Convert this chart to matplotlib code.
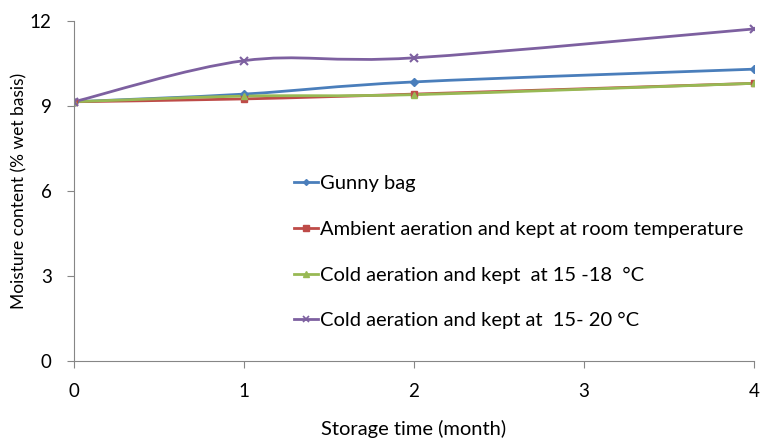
import matplotlib
matplotlib.use("Agg")
import matplotlib.pyplot as plt
from matplotlib.path import Path
from matplotlib.patches import PathPatch
from matplotlib.lines import Line2D

plt.rcParams['font.family'] = ['Lato', 'DejaVu Sans']

# Data
months = [0, 1, 2, 4]
gunny_bag = [9.15, 9.42, 9.85, 10.3]
ambient = [9.15, 9.25, 9.42, 9.8]
cold_15_18 = [9.15, 9.35, 9.4, 9.8]
cold_15_20 = [9.15, 10.6, 10.7, 11.72]

labels = [
    "Gunny bag",
    "Ambient aeration and kept at room temperature",
    "Cold aeration and kept  at 15 -18  \u00b0C",
    "Cold aeration and kept at  15- 20 \u00b0C",
]
series = [gunny_bag, ambient, cold_15_18, cold_15_20]
colors = ["#4A7EBB", "#BE4B48", "#98B954", "#7D60A0"]
markers = ["D", "s", "^", "x"]
msizes = [4, 5, 5, 6]


def smooth_path(xs, ys):
    # Excel-style smoothed line: cubic Bezier segments through the points
    n = len(xs)
    verts = [(xs[0], ys[0])]
    codes = [Path.MOVETO]
    for i in range(n - 1):
        x0, y0 = xs[max(i - 1, 0)], ys[max(i - 1, 0)]
        x1, y1 = xs[i], ys[i]
        x2, y2 = xs[i + 1], ys[i + 1]
        x3, y3 = xs[min(i + 2, n - 1)], ys[min(i + 2, n - 1)]
        c1 = (x1 + (x2 - x0) / 6, y1 + (y2 - y0) / 6)
        c2 = (x2 - (x3 - x1) / 6, y2 - (y3 - y1) / 6)
        verts += [c1, c2, (x2, y2)]
        codes += [Path.CURVE4] * 3
    return Path(verts, codes)


fig = plt.figure(figsize=(7.6, 4.4), dpi=100)
ax = fig.add_axes([74 / 760, 1 - 361 / 440, 680 / 760, 340 / 440])

handles = []
for ys, c, m, ms, lab in zip(series, colors, markers, msizes, labels):
    patch = PathPatch(smooth_path(months, ys), facecolor="none", edgecolor=c, lw=2)
    ax.add_patch(patch)
    ax.plot(months, ys, linestyle="none", marker=m, color=c, markersize=ms,
            markeredgewidth=1.5 if m == "x" else 1)
    handles.append(Line2D([], [], color=c, lw=2, marker=m, markersize=ms - 1,
                          markeredgewidth=1.2 if m == "x" else 1, label=lab))

ax.set_xlim(0, 4)
ax.set_ylim(0, 12)
ax.set_xticks([0, 1, 2, 3, 4])
ax.set_yticks([0, 3, 6, 9, 12])
for s in ["top", "right"]:
    ax.spines[s].set_visible(False)
for s in ["left", "bottom"]:
    ax.spines[s].set_color("#868686")
ax.tick_params(colors="#868686", labelcolor="black", labelsize=13.5, length=5)
ax.tick_params(axis="x", pad=11)
ax.tick_params(axis="y", pad=11)
ax.set_xlabel("Storage time (month)", fontsize=14.5, labelpad=14)
ax.set_ylabel("Moisture content (% wet basis)", fontsize=12.5)
ax.yaxis.set_label_coords(-0.068, 0.5)

ax.legend(handles=handles, loc="upper left", bbox_to_anchor=(276 / 760, 1 - 157 / 440),
          bbox_transform=fig.transFigure, frameon=False, fontsize=14.5,
          labelspacing=1.42, handlelength=1.2, handletextpad=0.1)

fig.savefig("out.png", dpi=100)
